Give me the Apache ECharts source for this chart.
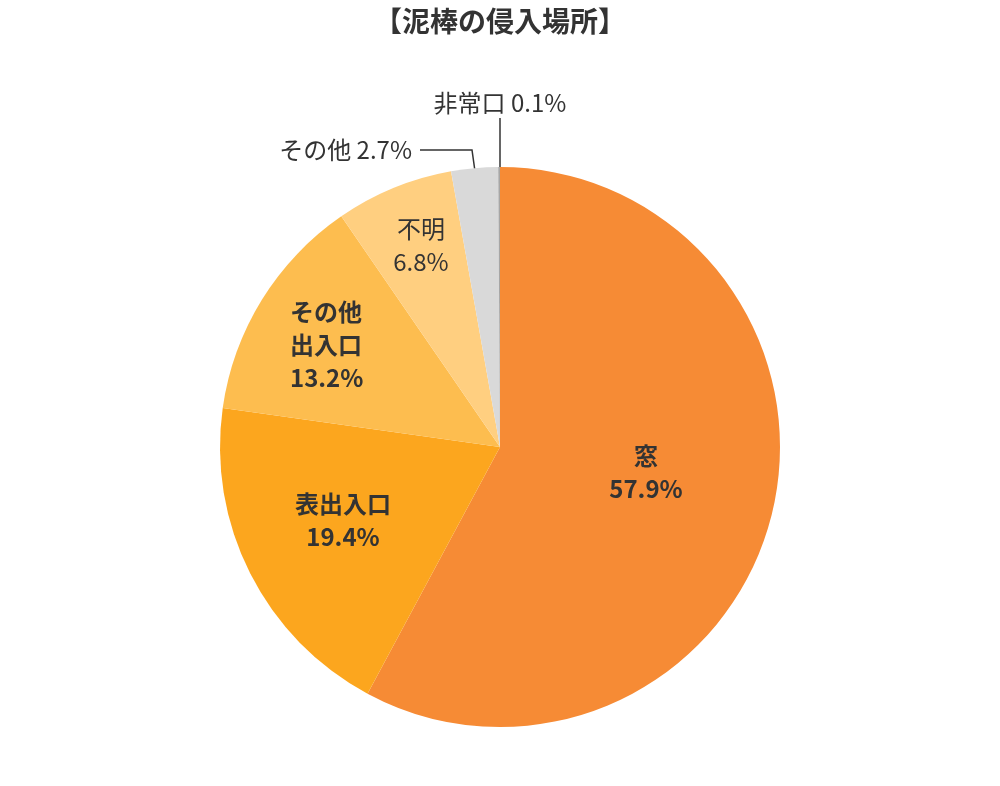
<!DOCTYPE html>
<html><head><meta charset="utf-8">
<script src="https://cdn.jsdelivr.net/npm/echarts@6/dist/echarts.min.js"></script>
<style>html,body{margin:0;padding:0;background:#fff}#c{width:1000px;height:786px}</style>
</head><body><div id="c"></div>
<script>
const title = '【泥棒の侵入場所】';
const categories = ['窓','表出入口','その他\n出入口','不明','その他','非常口'];
const values = [57.9, 19.4, 13.2, 6.8, 2.7, 0.1];
const colors = ['#F68B35','#FCA61E','#FDBD4F','#FFCF80','#D9D9D9','#A6A6A6'];
const bold = [true,true,true,false,false,false];
const outside = [false,false,false,false,true,true];
const labelPos = [[646,472],[343,520],[338,345],[421,245],[412,150],[500,103]];
const linePts = [null,null,null,null,[[420,150],[472,150],[480,207]],[[500,118],[500,118],[500,178]]];

const chart = echarts.init(document.getElementById('c'));
chart.setOption({
  animation:false,
  title:{text:title,left:'center',top:2,textStyle:{fontFamily:'Noto Sans CJK JP',fontSize:28,fontWeight:'bold',color:'#333'}},
  series:[{
    type:'pie', center:[500,447], radius:[0,280], startAngle:90, clockwise:true,
    data: categories.map((n,i)=>({
      name:n, value:values[i], itemStyle:{color:colors[i]},
      label:{show:true, position: outside[i]?'outside':'inside',
        formatter: outside[i] ? '{b} {c}%' : (i===3 ? '{b}\n{c}%' : '{b}\n{c}%'),
        fontFamily:'Noto Sans CJK JP', fontSize:24, lineHeight:33,
        fontWeight: bold[i]?'bold':'normal', color:'#333',
        align: i===2?'left':'center'},
      labelLine:{show:outside[i], lineStyle:{color:'#333',width:1.5}, length:10, length2:10}
    })),
    labelLayout: function(p){
      const i=p.dataIndex; const pos=labelPos[i];
      const o={x:pos[0], y:pos[1], verticalAlign:'middle'};
      if(i===4){o.align='right';}
      else if(i===2){o.align='left'; o.x=290;}
      else o.align='center';
      if(linePts[i]) o.labelLinePoints=linePts[i];
      return o;
    }
  }]
});
</script></body></html>
